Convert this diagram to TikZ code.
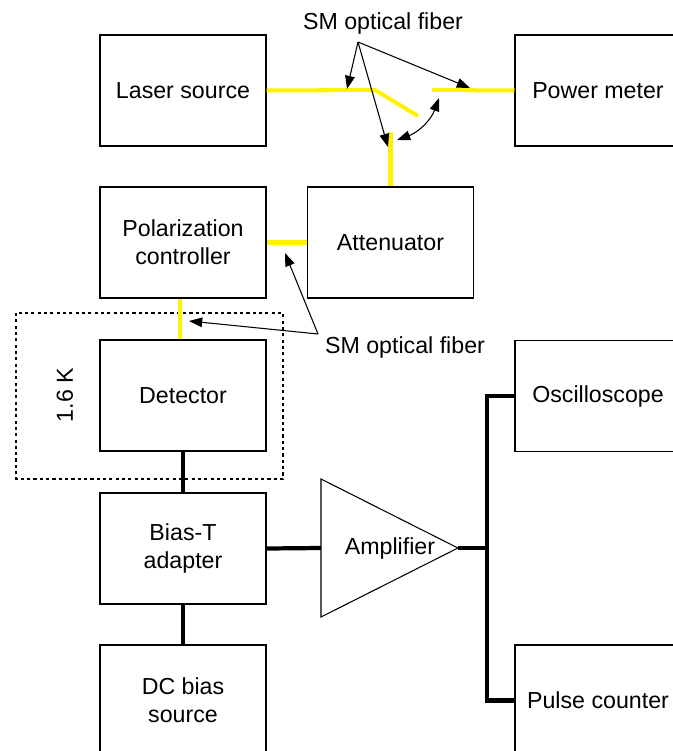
\documentclass[tikz,border=0pt]{standalone}
\usepackage{fontspec}
\setmainfont{Liberation Sans}
\usetikzlibrary{arrows.meta,calc}
\newcommand{\boxW}{3.32cm}
\newcommand{\boxH}{2.22cm}
\newcommand{\tipArrow}{Triangle[length=7.5pt,width=5.5pt]}

\begin{document}
\begin{tikzpicture}[x=0.02cm, y=-0.02cm, font=\fontsize{13.2}{15.9}\selectfont]
  \tikzset{
    block/.style={draw, line width=0.6pt, minimum width=\boxW, minimum height=\boxH, align=center, inner sep=0pt},
    fiber/.style={yellow, line width=2.3pt},
    wire/.style={line width=2.4pt},
    pointer/.style={line width=0.6pt, -{\tipArrow}},
    twoway/.style={line width=0.6pt, {\tipArrow}-{\tipArrow}},
    cold/.style={dash pattern=on 1.8pt off 1.8pt, line width=0.8pt}
  }
  \useasboundingbox (0,0) rectangle (673,751);
  \clip (0,0) rectangle (673,751);
  % blocks
  \node[block] (laser) at (183,90.5) {Laser source};
  \node[block] (pm) at (598,90.5) {Power meter};
  \node[block] (pc) at (183,242.5) {Polarization\\controller};
  \node[block] (att) at (390.5,242.5) {Attenuator};
  \node[block] (det) at (183,395.5) {Detector};
  \node[block] (bt) at (183,548.5) {Bias-T\\adapter};
  \node[block] (dc) at (183,700.5) {DC bias\\source};
  \node[block] (osc) at (598,396) {Oscilloscope};
  \node[block] (pulse) at (598,700.5) {Pulse counter};
  % amplifier
  \coordinate (amp-in) at (321,548);
  \coordinate (amp-out) at (458,548);
  \draw[line width=0.6pt] (321,479) -- (amp-out) -- (321,617) -- cycle;
  \node (amp) at (390,548) {Amplifier};
  \coordinate (bus) at (487,548);
  % cryostat
  \draw[cold] (16,313) rectangle (283,479);
  \node[rotate=90] (temp) at (65,395) {1.6 K};
  % fibers
  \coordinate (sw-in) at (375,90);
  \coordinate (sw-a) at (418,116);
  \coordinate (sw-b) at (432,90);
  \coordinate (sw-c) at (att.north |- 0,132);
  \draw[fiber] (laser.east) -- (sw-in) -- (sw-a);
  \draw[fiber] (sw-b) -- (pm.west);
  \draw[fiber] (sw-c) -- (att.north);
  \draw[fiber] (att.west) -- (pc.east);
  \draw[fiber] ($(pc.south)+(-3,0)$) -- ($(det.north)+(-3,0)$);
  % wires
  \draw[wire] (det.south) -- (bt.north);
  \draw[wire] (bt.south) -- (dc.north);
  \draw[wire] (bt.east) -- (amp-in);
  \draw[wire] (amp-out) -- (bus);
  \draw[wire] (osc.west) -| (bus) |- (pulse.west);
  % labels
  \node (fib-top) at (383,24) {SM optical fiber};
  \coordinate (fib-top-o) at (358,42);
  \draw[pointer] (fib-top-o) -- (347,89);
  \draw[pointer] (fib-top-o) -- (388,147);
  \draw[pointer] (fib-top-o) -- (470,88);
  \draw[twoway] (439,98) to[bend left=25] (397,140);
  \node (fib-mid) at (405,347) {SM optical fiber};
  \coordinate (fib-mid-o) at (318,334);
  \draw[pointer] (fib-mid-o) -- (189,321);
  \draw[pointer] (fib-mid-o) -- (285,253);
\end{tikzpicture}
\end{document}
